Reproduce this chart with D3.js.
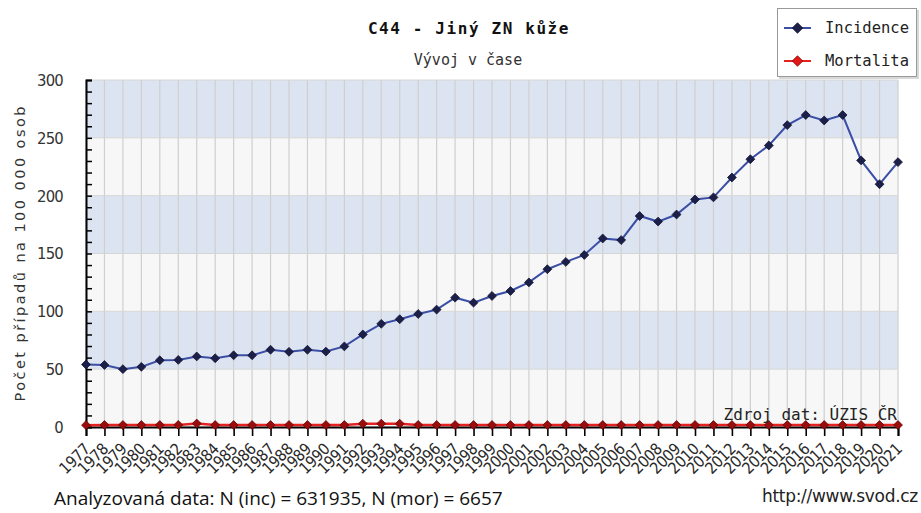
<!DOCTYPE html>
<html><head><meta charset="utf-8">
<script src="https://cdn.jsdelivr.net/npm/d3@7"></script>
<style>
html,body{margin:0;padding:0;background:#fff;}
svg{display:block;}
</style></head>
<body>
<svg id="chart" width="921" height="513"></svg>
<script>
const years = d3.range(1977, 2022);
const incidence = [54, 53.6, 50, 52, 57.7, 58, 61, 59.4, 62, 62, 66.8, 65, 66.8, 65.2, 69.7, 80, 89.2, 93.2, 97.7, 101.5, 111.8, 107.5, 113.3, 117.6, 125, 136.4, 142.7, 148.7, 163, 161.6, 182.4, 177.6, 183.7, 196.7, 198.5, 215.7, 231.5, 243.4, 261, 269.7, 265, 269.7, 230.5, 209.9, 229];
const mortality = [1.6, 1.7, 1.7, 1.7, 1.7, 1.8, 3.0, 1.7, 1.7, 1.7, 1.7, 1.7, 1.7, 1.7, 1.7, 2.8, 2.9, 2.8, 1.8, 1.7, 1.7, 1.7, 1.7, 1.7, 1.7, 1.7, 1.7, 1.7, 1.7, 1.7, 1.7, 1.7, 1.7, 1.7, 1.7, 1.7, 1.7, 1.7, 1.7, 1.7, 1.7, 1.7, 1.7, 1.7, 1.7];
const yTicks = [0, 50, 100, 150, 200, 250, 300];
const seriesNames = ["Incidence", "Mortalita"];
const titleText = "C44 - Jiný ZN kůže";
const subtitleText = "Vývoj v čase";
const yLabel = "Počet případů na 100 000 osob";
const sourceText = "Zdroj dat: ÚZIS ČR";
const urlText = "http://www.svod.cz";
const noteText = "Analyzovaná data: N (inc) = 631935, N (mor) = 6657";

const svg = d3.select("#chart");
const L = 86, R = 898, T = 80, B = 427;
const x = d3.scaleLinear().domain([1977, 2021]).range([L, R]);
const y = d3.scaleLinear().domain([0, 300]).range([B, T]);

const mono = "'DejaVu Sans Mono', 'Liberation Mono', monospace";
const cond = "'DejaVu Sans Condensed', 'DejaVu Sans', sans-serif";

// bands
const bands = d3.range(0, 300, 50);
svg.append("g").selectAll("rect").data(bands).join("rect")
  .attr("x", L).attr("width", R - L)
  .attr("y", d => y(d + 50)).attr("height", d => y(d) - y(d + 50))
  .attr("fill", d => (d / 50) % 2 === 1 ? "#dde4f1" : "#f7f7f7");

// vertical grid
svg.append("g").selectAll("line").data(years).join("line")
  .attr("x1", d => x(d)).attr("x2", d => x(d))
  .attr("y1", T).attr("y2", B)
  .attr("stroke", "#cfcfcf").attr("stroke-width", 1.2);

// horizontal grid
svg.append("g").selectAll("line").data(yTicks).join("line")
  .attr("x1", L).attr("x2", R)
  .attr("y1", d => y(d)).attr("y2", d => y(d))
  .attr("stroke", "#d6d6d6").attr("stroke-width", 1);

// y axis
const yAxis = d3.axisRight(y).tickValues(d3.range(0, 301, 10)).tickSize(6).tickFormat("");
const gy = svg.append("g").attr("transform", `translate(${L},0)`).call(yAxis);
gy.select(".domain").attr("stroke", "#000").attr("stroke-width", 2);
gy.selectAll(".tick line").attr("stroke", "#000").attr("stroke-width", 1.5);

// y tick labels
svg.append("g").selectAll("text").data(yTicks).join("text")
  .attr("x", 63).attr("y", d => y(d)).attr("dy", "0.36em")
  .attr("text-anchor", "end")
  .attr("font-family", cond).attr("font-size", 16.5).attr("fill", "#333")
  .attr("letter-spacing", "-0.8")
  .text(d => d);

// x axis
const xAxis = d3.axisBottom(x).tickValues(years).tickSize(9).tickFormat("");
const gx = svg.append("g").attr("transform", `translate(0,${B})`).call(xAxis);
gx.select(".domain").attr("stroke", "#000").attr("stroke-width", 2);
gx.selectAll(".tick line").attr("stroke", "#000").attr("stroke-width", 1.6);

// x labels
svg.append("g").selectAll("text").data(years).join("text")
  .attr("transform", d => `translate(${x(d) - 3},${B + 15}) rotate(-45)`)
  .attr("text-anchor", "end")
  .attr("dy", "0.7em")
  .attr("font-family", cond).attr("font-size", 16).attr("fill", "#2a2a2a")
  .attr("letter-spacing", "-0.3")
  .text(d => d);

// lines
const diamond = d3.symbol().type(d3.symbolDiamond2).size(50);
function drawSeries(vals, lineColor, lineWidth, markFill, markStroke) {
  const data = years.map((yr, i) => [yr, vals[i]]);
  svg.append("path").datum(data)
    .attr("fill", "none").attr("stroke", lineColor).attr("stroke-width", lineWidth)
    .attr("d", d3.line().x(d => x(d[0])).y(d => y(d[1])));
  svg.append("g").selectAll("path").data(data).join("path")
    .attr("transform", d => `translate(${x(d[0])},${y(d[1])})`)
    .attr("d", diamond)
    .attr("fill", markFill).attr("stroke", markStroke).attr("stroke-width", 0.8);
}
drawSeries(mortality, "#e42222", 2.5, "#9a0d0d", "#6a0000");
drawSeries(incidence, "#3a4ea6", 2, "#1c1f48", "#121433");

// source text
svg.append("text").attr("x", 897).attr("y", 420).attr("text-anchor", "end")
  .attr("font-family", mono).attr("font-size", 16).attr("fill", "#222")
  .text(sourceText);

// title
svg.append("text").attr("x", 469).attr("y", 34).attr("text-anchor", "middle")
  .attr("font-family", mono).attr("font-weight", "bold").attr("font-size", 16)
  .attr("letter-spacing", "1.6").attr("fill", "#111")
  .text(titleText);
svg.append("text").attr("x", 468).attr("y", 65).attr("text-anchor", "middle")
  .attr("font-family", mono).attr("font-size", 15).attr("fill", "#333")
  .text(subtitleText);

// y label
svg.append("text").attr("transform", `translate(25,254) rotate(-90)`)
  .attr("text-anchor", "middle")
  .attr("font-family", "'DejaVu Sans', sans-serif").attr("font-size", 14.5).attr("fill", "#333")
  .attr("textLength", 295).attr("lengthAdjust", "spacing")
  .text(yLabel);

// legend
const lg = svg.append("g");
lg.append("rect").attr("x", 779).attr("y", 10).attr("width", 140).attr("height", 69).attr("fill", "#d8d8d8");
lg.append("rect").attr("x", 777.5).attr("y", 8.5).attr("width", 139).attr("height", 68)
  .attr("fill", "#fff").attr("stroke", "#999").attr("stroke-width", 1);
const legendColors = [["#3a4ea6", "#1c1f48", "#121433"], ["#e42222", "#e01818", "#8a0000"]];
seriesNames.forEach((name, i) => {
  const cy = 28 + i * 33;
  lg.append("line").attr("x1", 784).attr("x2", 811).attr("y1", cy).attr("y2", cy)
    .attr("stroke", legendColors[i][0]).attr("stroke-width", 2);
  lg.append("path").attr("transform", `translate(797.5,${cy})`).attr("d", d3.symbol().type(d3.symbolDiamond2).size(70))
    .attr("fill", legendColors[i][1]).attr("stroke", legendColors[i][2]).attr("stroke-width", 0.8);
  lg.append("text").attr("x", 825).attr("y", cy).attr("dy", "0.35em")
    .attr("font-family", mono).attr("font-size", 15.5).attr("fill", "#222")
    .text(name);
});

// footer texts
svg.append("text").attr("x", 918).attr("y", 502).attr("text-anchor", "end")
  .attr("font-family", "'DejaVu Sans', sans-serif").attr("font-size", 17).attr("fill", "#222")
  .attr("letter-spacing", "-0.3")
  .text(urlText);
svg.append("text").attr("x", 54).attr("y", 505)
  .attr("font-family", "'Open Sans', sans-serif").attr("font-size", 19).attr("fill", "#111")
  .text(noteText);
</script>
</body></html>
